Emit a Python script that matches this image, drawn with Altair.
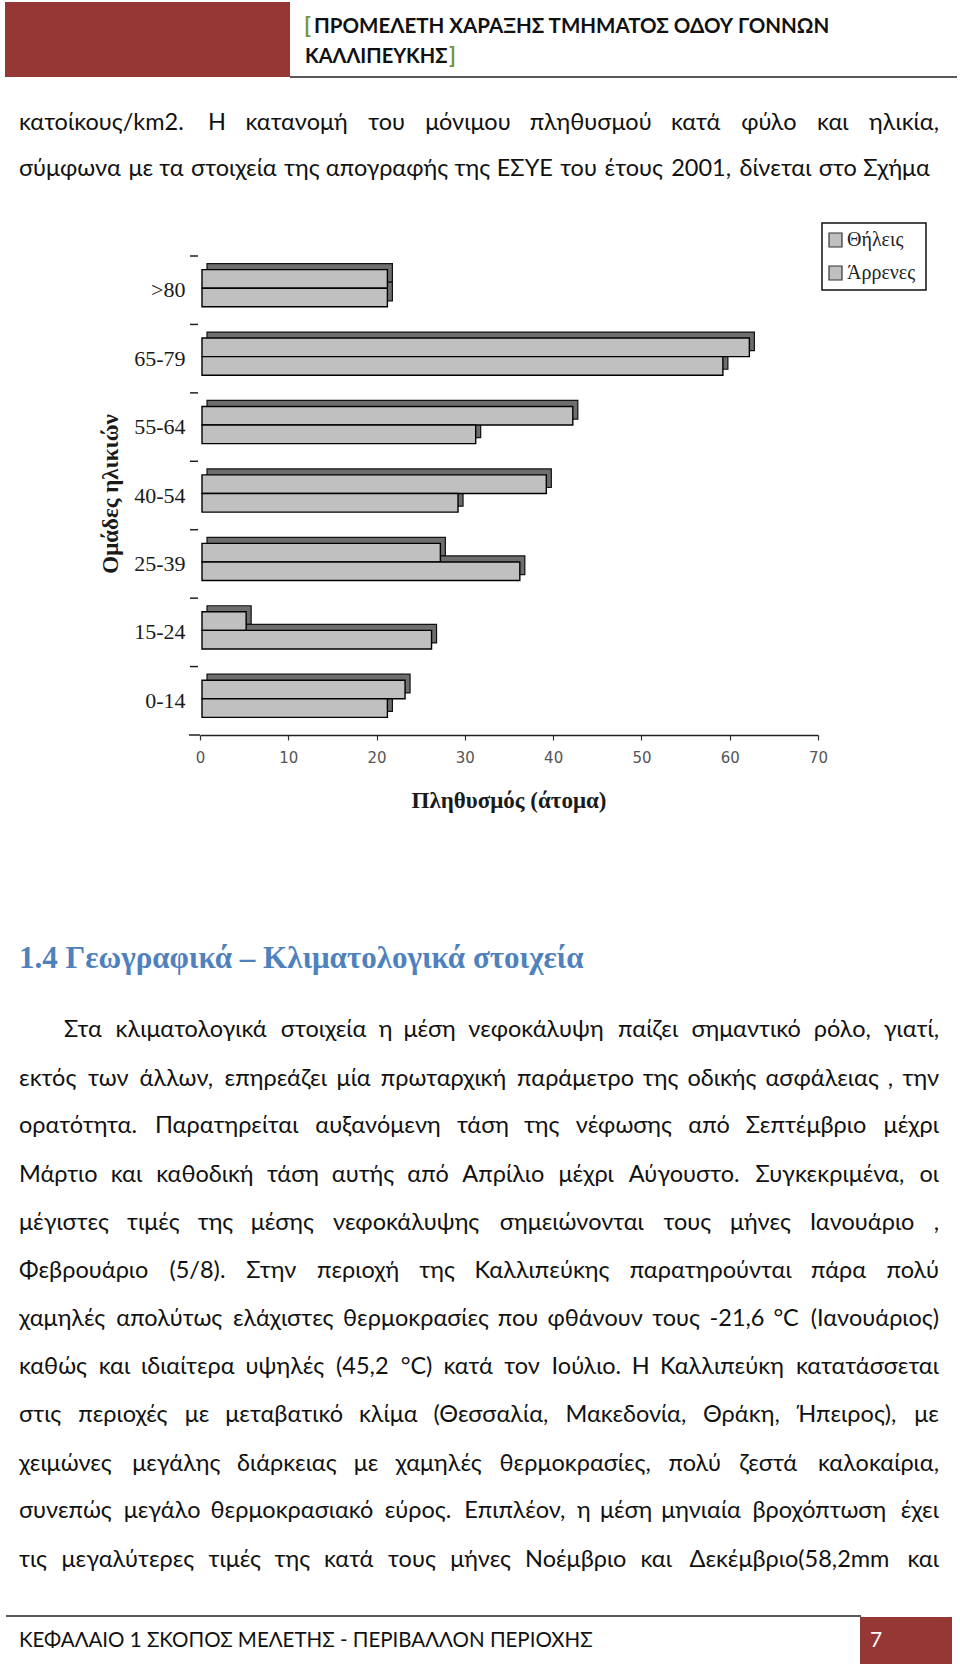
import altair as alt
import pandas as pd

# ---------------- chart data ----------------
ages = [">80", "65-79", "55-64", "40-54", "25-39", "15-24", "0-14"]
female = [21, 62, 42, 39, 27, 5, 23]
male = [21, 59, 31, 29, 36, 26, 21]
sexes = ["Θήλεις", "Άρρενες"]
x_ticks = [0, 10, 20, 30, 40, 50, 60, 70]
x_title = "Πληθυσμός (άτομα)"
y_title = "Ομάδες ηλικιών"

# ---------------- page text ----------------
header_1 = "ΠΡΟΜΕΛΕΤΗ ΧΑΡΑΞΗΣ ΤΜΗΜΑΤΟΣ ΟΔΟΥ ΓΟΝΝΩΝ"
header_2 = "ΚΑΛΛΙΠΕΥΚΗΣ"
para_1 = [
    "κατοίκους/km2. Η κατανομή του μόνιμου πληθυσμού κατά φύλο και ηλικία,",
    "σύμφωνα με τα στοιχεία της απογραφής της ΕΣΥΕ του έτους 2001, δίνεται στο Σχήμα",
]
heading = "1.4 Γεωγραφικά – Κλιματολογικά στοιχεία"
para_2 = [
    "Στα κλιματολογικά στοιχεία η μέση νεφοκάλυψη παίζει σημαντικό ρόλο, γιατί,",
    "εκτός των άλλων, επηρεάζει μία πρωταρχική παράμετρο της οδικής ασφάλειας , την",
    "ορατότητα. Παρατηρείται αυξανόμενη τάση της νέφωσης από Σεπτέμβριο μέχρι",
    "Μάρτιο και καθοδική τάση αυτής από Απρίλιο μέχρι Αύγουστο. Συγκεκριμένα, οι",
    "μέγιστες τιμές της μέσης νεφοκάλυψης σημειώνονται τους μήνες Ιανουάριο ,",
    "Φεβρουάριο (5/8). Στην περιοχή της Καλλιπεύκης παρατηρούνται πάρα πολύ",
    "χαμηλές απολύτως ελάχιστες θερμοκρασίες που φθάνουν τους -21,6 °C (Ιανουάριος)",
    "καθώς και ιδιαίτερα υψηλές (45,2 °C) κατά τον Ιούλιο. Η Καλλιπεύκη κατατάσσεται",
    "στις περιοχές με μεταβατικό κλίμα (Θεσσαλία, Μακεδονία, Θράκη, Ήπειρος), με",
    "χειμώνες μεγάλης διάρκειας με χαμηλές θερμοκρασίες, πολύ ζεστά καλοκαίρια,",
    "συνεπώς μεγάλο θερμοκρασιακό εύρος. Επιπλέον, η μέση μηνιαία βροχόπτωση έχει",
    "τις μεγαλύτερες τιμές της κατά τους μήνες Νοέμβριο και Δεκέμβριο(58,2mm και",
]
footer = "ΚΕΦΑΛΑΙΟ 1  ΣΚΟΠΟΣ ΜΕΛΕΤΗΣ - ΠΕΡΙΒΑΛΛΟΝ ΠΕΡΙΟΧΗΣ"
page_no = "7"

# ---------------- layout ----------------
PL, PT, PW, PH = 200, 256, 618, 479
TOTAL_W, TOTAL_H = 960, 1667
BODY_FONT = "Lato, Open Sans, sans-serif"
SERIF = "Liberation Serif, Times New Roman, serif"
BODY_SIZE = 23.5
WIDTH_FACTOR = 1.03
RED = "#953735"


def px(X):
    return X - PL


def py(Y):
    return Y - PT


one = pd.DataFrame({"a": [0]})

# --------------- bar chart ---------------
df = pd.DataFrame({
    "age": ages * 2,
    "sex": [sexes[0]] * len(ages) + [sexes[1]] * len(ages),
    "value": female + male,
})

y_scale = alt.Scale(domain=ages, paddingInner=0, paddingOuter=0)
y_axis = alt.Axis(ticks=False, domain=False, labelFont=SERIF, labelFontSize=22,
                  labelColor="#1a1a1a", labelPadding=15, title=None)
x_scale = alt.Scale(domain=[0, 70], nice=False)
x_axis = alt.Axis(values=x_ticks, tickSize=5, tickColor="#333", tickWidth=1.2,
                  domainColor="#222", domainWidth=1.5, labelFont="DejaVu Sans",
                  labelFontSize=15, labelColor="#555", labelPadding=10,
                  labelFlush=False, grid=False, title=None)

bar_h = 18.6


def bar_layer(sex, front):
    off = -bar_h / 2 if sex == sexes[0] else bar_h / 2
    if front:
        m = alt.Chart(df).mark_bar(height=bar_h, yOffset=off - 2, xOffset=2, x2Offset=2,
                                   fill="#c0c0c0", stroke="#000", strokeWidth=1.4)
    else:
        m = alt.Chart(df).mark_bar(height=bar_h, yOffset=off - 8, xOffset=7, x2Offset=7,
                                   fill="#6e6e6e", stroke="#111", strokeWidth=1.2)
    return m.encode(
        x=alt.X("value:Q", scale=x_scale, axis=x_axis),
        y=alt.Y("age:N", sort=ages, scale=y_scale, axis=y_axis),
    ).transform_filter(alt.datum.sex == sex)


ticks = alt.Chart(pd.DataFrame({"age": ages})).mark_rule(color="#222", strokeWidth=1.5).encode(
    y=alt.Y("age:N", sort=ages, scale=y_scale, axis=y_axis, bandPosition=0),
    x=alt.value(-10), x2=alt.value(-2),
)

bars = alt.layer(
    bar_layer(sexes[0], False), bar_layer(sexes[1], False),
    bar_layer(sexes[0], True), bar_layer(sexes[1], True),
    ticks,
)


# --------------- helpers for page items ---------------
def txt(text, X, Y, size, font=BODY_FONT, color="#111", weight="normal",
        align="left", baseline="alphabetic", angle=None):
    kw = dict(text=text, fontSize=size, font=font, color=color, fontWeight=weight,
              align=align, baseline=baseline)
    if angle is not None:
        kw["angle"] = angle
    return alt.Chart(one).mark_text(**kw).encode(x=alt.value(px(X)), y=alt.value(py(Y)))


def rect(X1, Y1, X2, Y2, fill, stroke=None, sw=0):
    kw = dict(fill=fill)
    if stroke:
        kw.update(stroke=stroke, strokeWidth=sw)
    return alt.Chart(one).mark_rect(**kw).encode(
        x=alt.value(px(X1)), x2=alt.value(px(X2)), y=alt.value(py(Y1)), y2=alt.value(py(Y2)))


def hrule(X1, X2, Y, color="#222", sw=1.5):
    return alt.Chart(one).mark_rule(color=color, strokeWidth=sw).encode(
        x=alt.value(px(X1)), x2=alt.value(px(X2)), y=alt.value(py(Y)))


# approximate glyph widths (em) used to spread words over a justified line
EM = {}
for chars, w in [
    ("ιίϊΐilI.,;:'!|Ι", 0.26), ("()", 0.31), ("/", 0.38), ("-", 0.34), ("°", 0.40),
    ("–", 0.55), ("εέςτζξ", 0.46), ("γ", 0.50), ("κλχνk", 0.52),
    ("ρυύδηήθβ", 0.55), ("οόαάσμ", 0.56), ("π", 0.60), ("φψ", 0.74), ("ωώ", 0.78),
    ("m", 0.84), ("0123456789", 0.58), ("C", 0.65), ("ΤΓ", 0.56), ("ΕΣΡ", 0.58),
    ("ΥΚΧ", 0.63), ("ΑΔΛ", 0.67), ("ΗΝΠ", 0.72), ("ΘΟΦΩ", 0.78), ("ΜΉ", 0.84),
]:
    for c in chars:
        EM[c] = w


def justify(lines, x0s, x1s, ys, size):
    rows = []
    for line, x0, x1, yb in zip(lines, x0s, x1s, ys):
        words = line.split()
        ws = [WIDTH_FACTOR * size * sum(EM.get(c, 0.55) for c in w) for w in words]
        n = len(words)
        gap = (x1 - x0 - sum(ws)) / (n - 1)
        cur = x0
        for i, (w, wd) in enumerate(zip(words, ws)):
            if i == 0:
                rows.append({"t": w, "tx": px(cur), "ty": py(yb), "al": "left"})
            elif i == n - 1:
                rows.append({"t": w, "tx": px(x1), "ty": py(yb), "al": "right"})
            else:
                rows.append({"t": w, "tx": px(cur + wd / 2), "ty": py(yb), "al": "center"})
            cur += wd + gap
    return pd.DataFrame(rows)


p1_base = [129.5, 175.5]
p2_centers = [1031.2, 1080.1, 1127.9, 1176.9, 1224.7, 1272.5, 1320.4, 1368.2,
              1416.0, 1465.0, 1512.8, 1561.7]
p2_base = [c + 5.5 for c in p2_centers]

words = pd.concat([
    justify(para_1, [19, 19], [939, 930], p1_base, BODY_SIZE),
    justify(para_2, [64] + [19] * 11, [939] * 12, p2_base, BODY_SIZE),
])

word_layers = []
for al in ["left", "center", "right"]:
    word_layers.append(
        alt.Chart(words[words["al"] == al]).mark_text(
            align=al, baseline="alphabetic", font=BODY_FONT, fontSize=BODY_SIZE, color="#111"
        ).encode(
            x=alt.X("tx:Q", scale=None, axis=None),
            y=alt.Y("ty:Q", scale=None, axis=None),
            text="t:N",
        )
    )

page = [
    # header
    rect(5, 2, 290, 77, RED),
    hrule(290, 957, 77, "#222", 1.5),
    txt("[", 304, 33, 22, weight="bold", color="#76923C"),
    txt(header_1, 314, 33, 20.5, weight="bold", color="#111"),
    txt(header_2, 305, 63, 20, weight="bold", color="#111"),
    txt("]", 449, 63, 22, weight="bold", color="#76923C"),
    # chart extras
    hrule(189, 200, 735, "#222", 1.5),
    txt(x_title, 509, 808, 23, font=SERIF, weight="bold", align="center", color="#1a1a1a"),
    txt(y_title, 118, 494, 23, font=SERIF, weight="bold", align="center", color="#1a1a1a", angle=270),
    # legend
    rect(822, 223, 926, 290, "white", "#111", 1.5),
    rect(829, 233, 842, 247, "#c0c0c0", "#333", 1.2),
    rect(829, 266, 842, 280, "#c0c0c0", "#333", 1.2),
    txt(sexes[0], 847, 240, 20, font=SERIF, baseline="middle", color="#222"),
    txt(sexes[1], 847, 273, 20, font=SERIF, baseline="middle", color="#222"),
    # heading
    txt(heading, 19, 968, 31, font="Liberation Serif", weight="bold", color="#4F81BD"),
    # footer
    hrule(6, 861, 1616, "#222", 1.5),
    rect(860, 1617, 952, 1664, RED),
    txt(footer, 19, 1647, 20.5, color="#111"),
    txt(page_no, 876, 1647, 21, color="white", align="center"),
]

chart = alt.layer(bars, *word_layers, *page).resolve_scale(
    x="independent", y="independent"
).properties(
    width=PW, height=PH,
    padding={"left": PL, "top": PT, "right": TOTAL_W - PL - PW, "bottom": TOTAL_H - PT - PH},
    autosize=alt.AutoSizeParams(type="none"),
    background="white",
).configure_view(stroke=None)

chart.save("out.html", embed_options={"renderer": "svg", "actions": False})
